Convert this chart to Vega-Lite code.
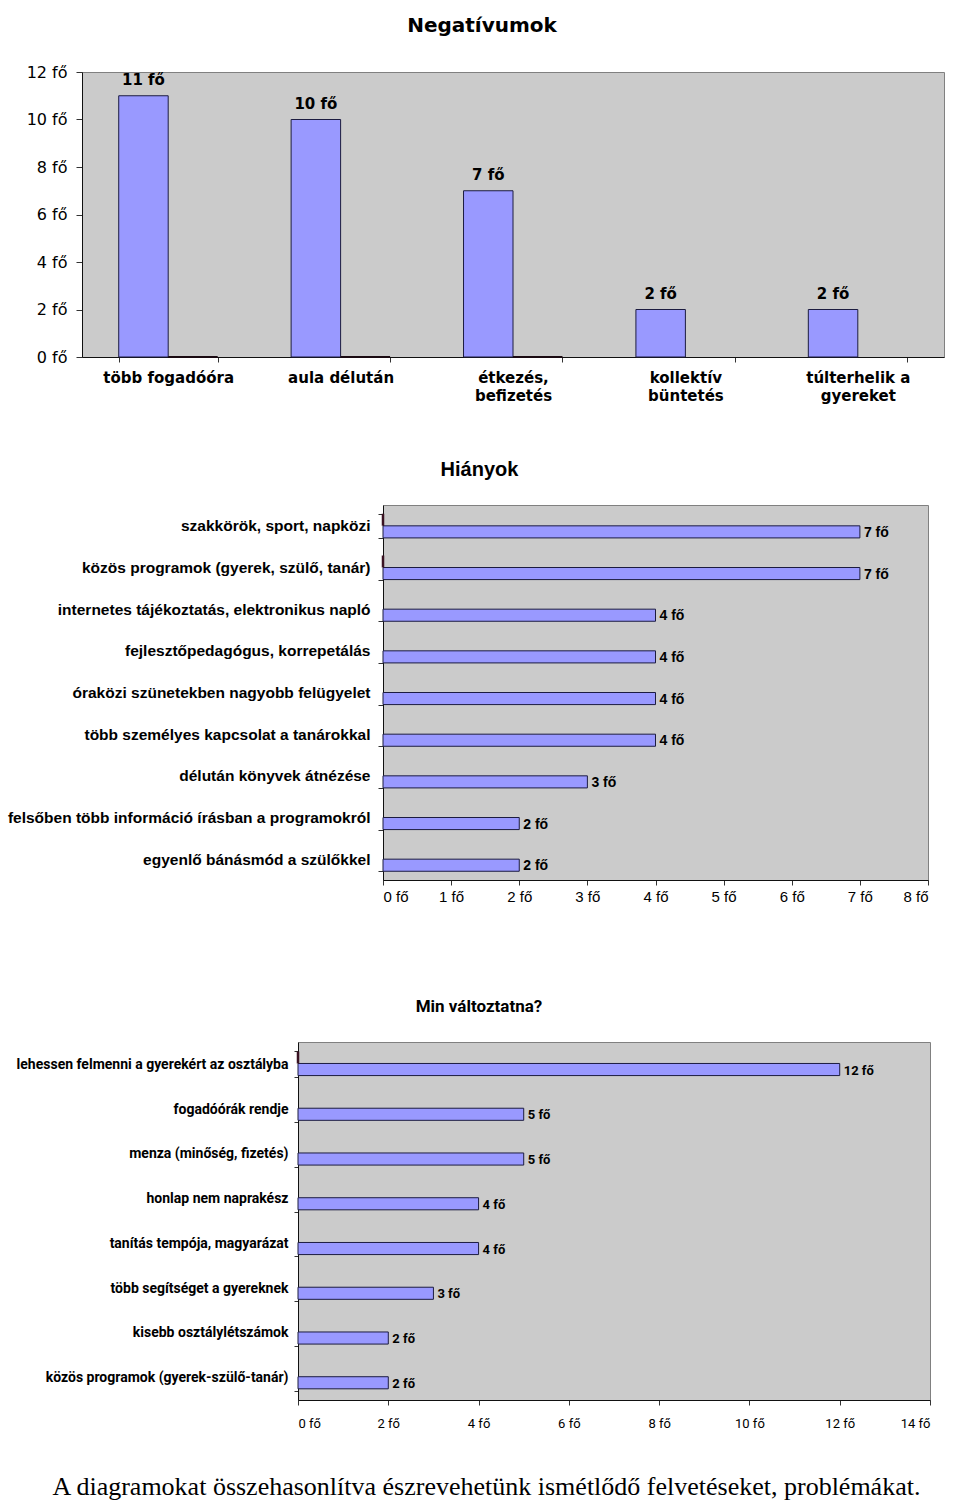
{
  "$schema": "https://vega.github.io/schema/vega-lite/v6.json",
  "background": "white",
  "padding": {"left": 0, "top": 15, "right": 2, "bottom": 2},
  "title": {
    "text": "A diagramokat összehasonlítva észrevehetünk ismétlődő felvetéseket, problémákat.",
    "orient": "bottom", "anchor": "middle", "font": "Liberation Serif", "fontSize": 26,
    "fontWeight": "normal", "color": "#000", "offset": 43, "dx": 14
  },
  "config": {
    "view": {"fill": "#cbcbcb", "stroke": "#808080"},
    "axis": {"grid": false, "domainColor": "#111", "tickColor": "#333", "labelColor": "#000", "title": null}
  },
  "spacing": 55,
  "vconcat": [
    {
      "spacing": 0, "bounds": "flush",
      "hconcat": [
        {"width": 81, "height": 10, "data": {"values": []}, "mark": "point", "view": {"fill": "transparent", "stroke": "transparent"}},
        {
          "width": 862, "height": 285,
          "title": {"text": "Negatívumok", "font": "DejaVu Sans", "fontSize": 20, "fontWeight": "bold", "color": "#000", "frame": "group", "dx": -31, "offset": 28},
          "data": {"values": [
            {"kat": "több fogadóóra", "sor": "a", "fo": 11, "cimke": "11 fő"},
            {"kat": "több fogadóóra", "sor": "b", "fo": 0, "cimke": ""},
            {"kat": "aula délután", "sor": "a", "fo": 10, "cimke": "10 fő"},
            {"kat": "aula délután", "sor": "b", "fo": 0, "cimke": ""},
            {"kat": "étkezés, befizetés", "sor": "a", "fo": 7, "cimke": "7 fő"},
            {"kat": "étkezés, befizetés", "sor": "b", "fo": 0, "cimke": ""},
            {"kat": "kollektív büntetés", "sor": "a", "fo": 2, "cimke": "2 fő"},
            {"kat": "túlterhelik a gyereket", "sor": "a", "fo": 2, "cimke": "2 fő"}
          ]},
          "encoding": {
            "x": {"field": "kat", "type": "nominal", "sort": null,
              "scale": {"paddingInner": 0.426, "paddingOuter": 0.213},
              "axis": {"labelAngle": 0, "labelFont": "DejaVu Sans", "labelFontSize": 15, "labelFontWeight": "bold",
                "labelPadding": 8, "tickSize": 5, "tickBand": "extent", "labelLineHeight": 18, "labelBaseline": "top",
                "labelExpr": "datum.label == 'étkezés, befizetés' ? ['étkezés,', 'befizetés'] : datum.label == 'kollektív büntetés' ? ['kollektív', 'büntetés'] : datum.label == 'túlterhelik a gyereket' ? ['túlterhelik a', 'gyereket'] : datum.label"}},
            "xOffset": {"field": "sor", "type": "nominal", "scale": {"domain": ["a", "b"]}},
            "y": {"field": "fo", "type": "quantitative", "scale": {"domain": [0, 12], "nice": false},
              "axis": {"values": [0, 2, 4, 6, 8, 10, 12], "labelExpr": "datum.value + ' fő'", "labelFont": "DejaVu Sans",
                "labelFontSize": 16, "tickSize": 6, "labelPadding": 9}}
          },
          "layer": [
            {"transform": [{"filter": "datum.sor == 'a'"}],
             "mark": {"type": "bar", "fill": "#9999ff", "stroke": "#1c1c40", "strokeWidth": 1}},
            {"transform": [{"filter": "datum.sor == 'b'"}],
             "mark": {"type": "bar", "fill": "#993366", "stroke": "#1a0a12", "strokeWidth": 2}},
            {"transform": [{"filter": "datum.sor == 'a'"}],
             "mark": {"type": "text", "baseline": "bottom", "dy": -8, "font": "DejaVu Sans", "fontSize": 15, "fontWeight": "bold", "color": "#000"},
             "encoding": {"text": {"field": "cimke"}}}
          ]
        }
      ]
    },
    {
      "spacing": 92,
      "vconcat": [
        {
          "spacing": 0, "bounds": "flush",
          "hconcat": [
            {"width": 382, "height": 10, "data": {"values": []}, "mark": "point", "view": {"fill": "transparent", "stroke": "transparent"}},
            {
              "width": 545, "height": 375,
              "title": {"text": "Hiányok", "font": "Liberation Sans", "fontSize": 20, "fontWeight": "bold", "color": "#000", "frame": "group", "dx": -176, "offset": 18},
              "data": {"values": [
                {"kat": "szakkörök, sport, napközi", "sor": "b", "fo": 0, "cimke": ""},
                {"kat": "szakkörök, sport, napközi", "sor": "a", "fo": 7, "cimke": "7 fő"},
                {"kat": "közös programok (gyerek, szülő, tanár)", "sor": "b", "fo": 0, "cimke": ""},
                {"kat": "közös programok (gyerek, szülő, tanár)", "sor": "a", "fo": 7, "cimke": "7 fő"},
                {"kat": "internetes tájékoztatás, elektronikus napló", "sor": "a", "fo": 4, "cimke": "4 fő"},
                {"kat": "fejlesztőpedagógus, korrepetálás", "sor": "a", "fo": 4, "cimke": "4 fő"},
                {"kat": "óraközi szünetekben nagyobb felügyelet", "sor": "a", "fo": 4, "cimke": "4 fő"},
                {"kat": "több személyes kapcsolat a tanárokkal", "sor": "a", "fo": 4, "cimke": "4 fő"},
                {"kat": "délután könyvek átnézése", "sor": "a", "fo": 3, "cimke": "3 fő"},
                {"kat": "felsőben több információ írásban a programokról", "sor": "a", "fo": 2, "cimke": "2 fő"},
                {"kat": "egyenlő bánásmód a szülőkkel", "sor": "a", "fo": 2, "cimke": "2 fő"}
              ]},
              "encoding": {
                "y": {"field": "kat", "type": "nominal", "sort": null,
                  "scale": {"paddingInner": 0.42, "paddingOuter": 0.21},
                  "axis": {"labelFont": "Liberation Sans", "labelFontSize": 15.5, "labelFontWeight": "bold", "labelLimit": 420,
                    "tickSize": 5, "labelPadding": 8, "tickBand": "extent"}},
                "yOffset": {"field": "sor", "type": "nominal", "scale": {"domain": ["b", "a"]}},
                "x": {"field": "fo", "type": "quantitative", "scale": {"domain": [0, 8], "nice": false},
                  "axis": {"values": [0, 1, 2, 3, 4, 5, 6, 7, 8], "labelExpr": "datum.value + ' fő'", "labelFont": "Liberation Sans",
                    "labelFontSize": 15, "tickSize": 5, "labelPadding": 4}}
              },
              "layer": [
                {"transform": [{"filter": "datum.sor == 'a'"}],
                 "mark": {"type": "bar", "fill": "#9999ff", "stroke": "#1c1c40", "strokeWidth": 1}},
                {"transform": [{"filter": "datum.sor == 'b'"}],
                 "mark": {"type": "bar", "fill": "#993366", "stroke": "#3a1222", "strokeWidth": 2.5}},
                {"transform": [{"filter": "datum.sor == 'a'"}],
                 "mark": {"type": "text", "align": "left", "baseline": "middle", "dx": 4, "dy": 1, "font": "Liberation Sans", "fontSize": 14, "fontWeight": "bold", "color": "#000"},
                 "encoding": {"text": {"field": "cimke"}}}
              ]
            }
          ]
        },
        {
          "spacing": 0, "bounds": "flush",
          "hconcat": [
            {"width": 297, "height": 10, "data": {"values": []}, "mark": "point", "view": {"fill": "transparent", "stroke": "transparent"}},
            {
              "width": 632, "height": 358,
              "title": {"text": "Min változtatna?", "font": "Roboto", "fontSize": 17, "fontWeight": "bold", "color": "#000", "frame": "group", "dx": -135, "offset": 19},
              "data": {"values": [
                {"kat": "lehessen felmenni a gyerekért az osztályba", "sor": "b", "fo": 0, "cimke": ""},
                {"kat": "lehessen felmenni a gyerekért az osztályba", "sor": "a", "fo": 12, "cimke": "12 fő"},
                {"kat": "fogadóórák rendje", "sor": "a", "fo": 5, "cimke": "5 fő"},
                {"kat": "menza (minőség, fizetés)", "sor": "a", "fo": 5, "cimke": "5 fő"},
                {"kat": "honlap nem naprakész", "sor": "a", "fo": 4, "cimke": "4 fő"},
                {"kat": "tanítás tempója, magyarázat", "sor": "a", "fo": 4, "cimke": "4 fő"},
                {"kat": "több segítséget a gyereknek", "sor": "a", "fo": 3, "cimke": "3 fő"},
                {"kat": "kisebb osztálylétszámok", "sor": "a", "fo": 2, "cimke": "2 fő"},
                {"kat": "közös programok (gyerek-szülő-tanár)", "sor": "a", "fo": 2, "cimke": "2 fő"}
              ]},
              "encoding": {
                "y": {"field": "kat", "type": "nominal", "sort": null,
                  "scale": {"paddingInner": 0.42, "paddingOuter": 0.21},
                  "axis": {"labelFont": "Roboto", "labelFontSize": 14, "labelFontWeight": "bold", "labelLimit": 420,
                    "tickSize": 4, "labelPadding": 6, "tickBand": "extent"}},
                "yOffset": {"field": "sor", "type": "nominal", "scale": {"domain": ["b", "a"]}},
                "x": {"field": "fo", "type": "quantitative", "scale": {"domain": [0, 14], "nice": false},
                  "axis": {"values": [0, 2, 4, 6, 8, 10, 12, 14], "labelExpr": "datum.value + ' fő'", "labelFont": "Roboto",
                    "labelFontSize": 13, "tickSize": 5, "labelPadding": 12}}
              },
              "layer": [
                {"transform": [{"filter": "datum.sor == 'a'"}],
                 "mark": {"type": "bar", "fill": "#9999ff", "stroke": "#1c1c40", "strokeWidth": 1}},
                {"transform": [{"filter": "datum.sor == 'b'"}],
                 "mark": {"type": "bar", "fill": "#993366", "stroke": "#3a1222", "strokeWidth": 2.5}},
                {"transform": [{"filter": "datum.sor == 'a'"}],
                 "mark": {"type": "text", "align": "left", "baseline": "middle", "dx": 4, "dy": 1, "font": "Roboto", "fontSize": 13, "fontWeight": "bold", "color": "#000"},
                 "encoding": {"text": {"field": "cimke"}}}
              ]
            }
          ]
        }
      ]
    }
  ]
}
